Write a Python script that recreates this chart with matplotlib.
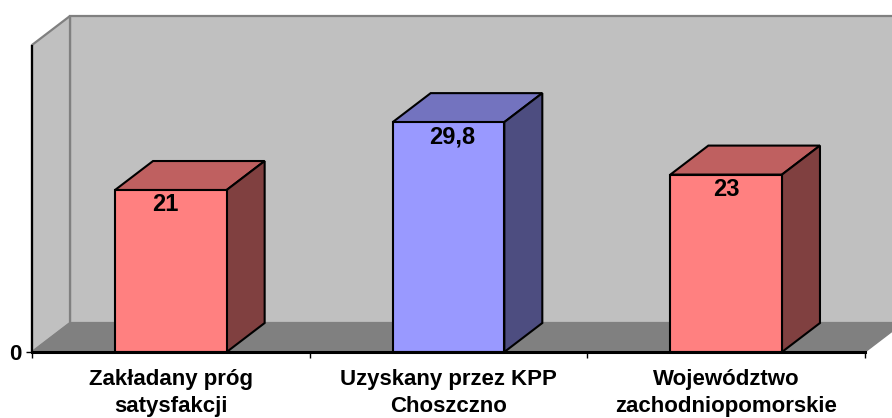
import matplotlib
matplotlib.use("Agg")
import matplotlib.pyplot as plt
from matplotlib.patches import Polygon

categories = ["Zakładany próg\nsatysfakcji", "Uzyskany przez KPP\nChoszczno", "Województwo\nzachodniopomorskie"]
values = [21, 29.8, 23]
value_labels = ["21", "29,8", "23"]
front_colors = ["#FF8080", "#9999FF", "#FF8080"]
top_colors = ["#BF6060", "#7373BF", "#BF6060"]
side_colors = ["#804040", "#4D4D80", "#804040"]
label_shift_pt = [-4.0, 3.0, 0.5]

W, H = 892, 418
L, R, T, B = 32, 865, 45, 352
y_top = 39.8
fig = plt.figure(figsize=(W / 100, H / 100), dpi=100)
ax = fig.add_axes([L / W, 1 - B / H, (R - L) / W, (B - T) / H])
ax.set_xlim(-0.5, 2.5)
ax.set_ylim(0, y_top)
ax.patch.set_visible(False)
for s in ["top", "right"]:
    ax.spines[s].set_visible(False)
ax.spines["bottom"].set_linewidth(2.2)
ax.spines["bottom"].set_zorder(10)
ax.spines["left"].set_visible(False)

dx = 38 / ((R - L) / 3)
dy = 29 / ((B - T) / y_top)
x0, x1 = -0.5, 2.5

def poly(pts, fc, ec, lw, z):
    ax.add_patch(Polygon(pts, closed=True, fc=fc, ec=ec, lw=lw, zorder=z, clip_on=False, joinstyle="miter"))

# walls and floor
poly([(x0 + dx, dy), (x1 + dx, dy), (x1 + dx, y_top + dy), (x0 + dx, y_top + dy)], "#C0C0C0", "#808080", 1.6, 1)
poly([(x0, 0), (x0 + dx, dy), (x0 + dx, y_top + dy), (x0, y_top)], "#C0C0C0", "#808080", 1.6, 2)
poly([(x0, 0), (x1, 0), (x1 + dx, dy), (x0 + dx, dy)], "#808080", "#808080", 1.0, 2)
ax.plot([x0, x0], [0, y_top], color="black", lw=1.6, zorder=9, clip_on=False, solid_capstyle="butt")

# bars
width = 0.402
for i, v in enumerate(values):
    a, b = i - width / 2, i + width / 2
    ax.bar(i, v, width=width, color=front_colors[i], edgecolor="black", linewidth=1.5, zorder=5)
    poly([(a, v), (b, v), (b + dx, v + dy), (a + dx, v + dy)], top_colors[i], "black", 1.5, 4)
    poly([(b, 0), (b + dx, dy), (b + dx, v + dy), (b, v)], side_colors[i], "black", 1.5, 4)
    ax.annotate(value_labels[i], (i, v), xytext=(label_shift_pt[i], -2.5), textcoords="offset points",
                ha="center", va="top", fontsize=17, fontweight="bold",
                family="Liberation Sans", color="black", zorder=8)

ax.set_xticks([-0.5, 0.5, 1.5, 2.5])
ax.set_xticklabels([])
ax.tick_params(axis="x", length=4.5, width=1.0, color="black", direction="out")
ax.set_yticks([0])
ax.set_yticklabels(["0"], fontsize=16, fontweight="bold", family="Liberation Sans")
ax.tick_params(axis="y", length=4, width=1.0, pad=3.5)
for i, c in enumerate(categories):
    ax.annotate(c, (i, 0), xytext=(0, -12), textcoords="offset points", ha="center", va="top",
                fontsize=16, fontweight="bold", family="Liberation Sans", linespacing=1.42)
fig.savefig("out.png", dpi=100)
